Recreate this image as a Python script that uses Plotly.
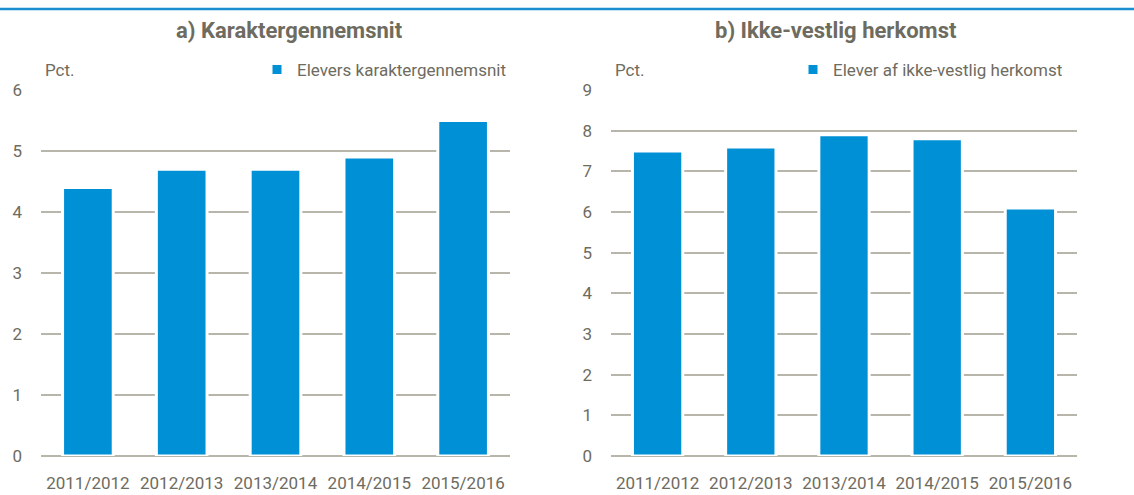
import plotly.graph_objects as go

categories = ["2011/2012", "2012/2013", "2013/2014", "2014/2015", "2015/2016"]
grades = [4.4, 4.7, 4.7, 4.9, 5.5]
nonwestern = [7.5, 7.6, 7.9, 7.8, 6.1]
title_a = "a) Karaktergennemsnit"
title_b = "b) Ikke-vestlig herkomst"
name_a = "Elevers karaktergennemsnit"
name_b = "Elever af ikke-vestlig herkomst"

W, H = 1134, 495
BLUE = "#0090d6"
TXT = "#6e6b60"
GRID = "#b8b5aa"
FONT = "Roboto, Liberation Sans, sans-serif"

fig = go.Figure()
fig.add_trace(go.Bar(x=categories, y=grades, name=name_a, marker=dict(color=BLUE, line=dict(color="white", width=3)),
                     xaxis="x", yaxis="y", legend="legend"))
fig.add_trace(go.Bar(x=categories, y=nonwestern, name=name_b, marker=dict(color=BLUE, line=dict(color="white", width=3)),
                     xaxis="x2", yaxis="y2", legend="legend2"))

ml, mr, mt, mb = 0, 0, 90, 39
pw = W - ml - mr
ph = H - mt - mb
def px(x):
    return (x - ml) / pw
def py(y):
    return 1 - (y - mt) / ph

axis_common = dict(showline=False, ticks="", tickfont=dict(size=17, color=TXT, family=FONT), fixedrange=True)
fig.update_layout(
    width=W, height=H,
    margin=dict(l=ml, r=mr, t=mt, b=mb, autoexpand=False),
    paper_bgcolor="white", plot_bgcolor="white",
    font=dict(family=FONT, color=TXT),
    bargap=0.46,
    xaxis=dict(domain=[px(41), px(510)], anchor="y", showgrid=False, ticklabelstandoff=15, **axis_common),
    yaxis=dict(domain=[0, 1], anchor="x", range=[0, 6], dtick=1, showgrid=True, gridcolor=GRID, gridwidth=2,
               zeroline=True, zerolinecolor=GRID, zerolinewidth=2, ticklabelstandoff=18, **axis_common),
    xaxis2=dict(domain=[px(611), px(1077)], anchor="y2", showgrid=False, ticklabelstandoff=15, **axis_common),
    yaxis2=dict(domain=[0, 1], anchor="x2", range=[0, 9], dtick=1, showgrid=True, gridcolor=GRID, gridwidth=2,
                zeroline=True, zerolinecolor=GRID, zerolinewidth=2, ticklabelstandoff=18, **axis_common),
    legend=dict(x=px(512), xanchor="right", y=py(70), yanchor="middle", bgcolor="rgba(0,0,0,0)",
                font=dict(size=17, color=TXT, family=FONT), itemwidth=30),
    legend2=dict(x=px(1068), xanchor="right", y=py(70), yanchor="middle", bgcolor="rgba(0,0,0,0)",
                 font=dict(size=17, color=TXT, family=FONT), itemwidth=30),
    showlegend=True,
)

fig.add_shape(type="line", xref="paper", yref="paper", x0=0, x1=1, y0=py(9), y1=py(9),
              line=dict(color="#1a8fd0", width=2.5))

annos = [
    dict(text="<b>" + title_a + "</b>", x=px(289), y=py(30)),
    dict(text="<b>" + title_b + "</b>", x=px(836), y=py(30)),
]
for a in annos:
    fig.add_annotation(xref="paper", yref="paper", xanchor="center", yanchor="middle", showarrow=False,
                       font=dict(size=22, color=TXT, family=FONT), **a)
for x in [43, 613]:
    fig.add_annotation(text="Pct.", xref="paper", yref="paper", x=px(x), y=py(70), xanchor="left", yanchor="middle",
                       showarrow=False, font=dict(size=17, color=TXT, family=FONT))

fig.write_html("out.html", config={"displayModeBar": False, "staticPlot": True},
               post_script="document.body.style.margin='0';document.body.style.overflow='hidden';")
